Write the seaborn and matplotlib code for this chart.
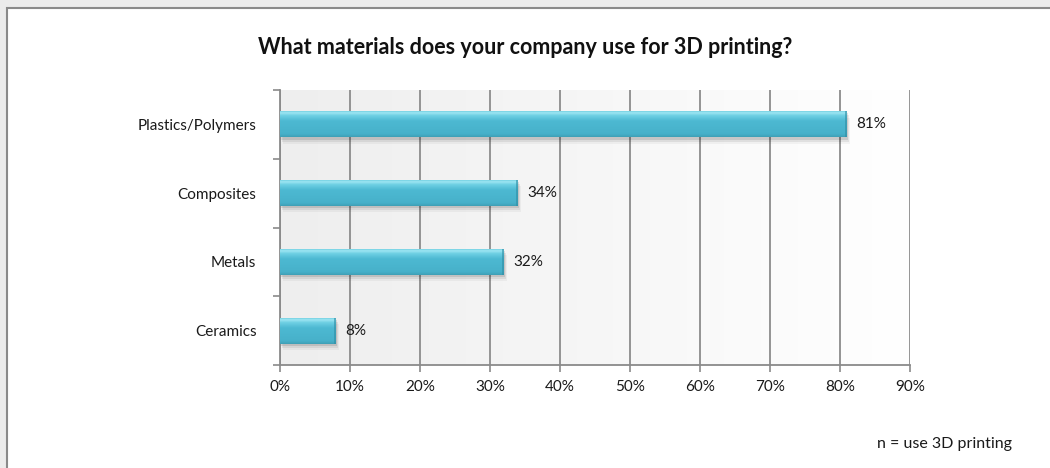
import numpy as np
import pandas as pd
import matplotlib
matplotlib.use("Agg")
import matplotlib.pyplot as plt
from matplotlib.patches import Rectangle
from matplotlib.colors import LinearSegmentedColormap
import seaborn as sns

# Survey responses
materials = ["Plastics/Polymers", "Composites", "Metals", "Ceramics"]
shares = [81, 34, 32, 8]
tick_values = [0, 10, 20, 30, 40, 50, 60, 70, 80, 90]
title_text = "What materials does your company use for 3D printing?"
note_text = "n = use 3D printing"

sns.set_theme(style="white")
plt.rcParams["font.family"] = ["Lato", "DejaVu Sans"]

df = pd.DataFrame({"material": materials, "share": shares})

fig = plt.figure(figsize=(10.5, 4.68), dpi=100)
fig.patch.set_facecolor("#ececec")

# white card with grey frame
card = Rectangle((7 / 1050, -0.05), 1.0, 1.05 - 8 / 468, transform=fig.transFigure,
                 facecolor="white", edgecolor="#8a8a8a", linewidth=1.5, zorder=-10)
fig.patches.append(card)

ax = fig.add_axes([280 / 1050, 1 - 365 / 468, 630 / 1050, 275 / 468])
ax.set_facecolor("none")

sns.barplot(data=df, y="material", x="share", orient="h", color="#4bb8d1",
            width=0.38, ax=ax, zorder=3, edgecolor="none")

ax.set_xlim(0, 90)
ax.set_ylim(len(materials) - 0.5, -0.5)

# plot-area background: light grey fading to white
bg = np.linspace(0, 1, 256).reshape(1, -1)
bg_cmap = LinearSegmentedColormap.from_list("bg", ["#eeeeee", "#ffffff"])
ax.imshow(bg, cmap=bg_cmap, aspect="auto", extent=[0, 1, 0, 1],
          transform=ax.transAxes, zorder=0)

# bevelled bar shading
bar_cmap = LinearSegmentedColormap.from_list(
    "bar", [(0.0, "#3e9fb6"), (0.12, "#47b1ca"), (0.6, "#4db9d2"), (0.8, "#6fd0e4"),
            (0.9, "#9ee6f2"), (1.0, "#5cc4da")])
grad = np.linspace(0, 1, 256).reshape(-1, 1)
for patch in list(ax.patches):
    x0, y0 = patch.get_x(), patch.get_y()
    w, h = patch.get_width(), patch.get_height()
    # soft drop shadow
    for k, a in enumerate([0.10, 0.07, 0.04]):
        d = 0.03 + k * 0.03
        ax.add_patch(Rectangle((x0 + 0.15 + k * 0.15, y0 + d), w, h,
                               facecolor="#000000", alpha=a, edgecolor="none", zorder=2))
    im = ax.imshow(grad, cmap=bar_cmap, aspect="auto",
                   extent=[x0, x0 + w, y0 + h, y0], origin="lower", zorder=4)
    im.set_clip_path(patch)
    # darker end cap
    ax.add_patch(Rectangle((x0 + w - 0.35, y0), 0.35, h, facecolor="#2f8ea5",
                           alpha=0.6, edgecolor="none", zorder=5))

ax.set_xlim(0, 90)
ax.set_ylim(len(materials) - 0.5, -0.5)

# value labels
for i, v in enumerate(shares):
    ax.text(v + 1.3, i, f"{v}%", va="center", ha="left", fontsize=11,
            color="#1a1a1a", zorder=6)

ax.set_xticks(tick_values)
ax.set_xticklabels([f"{t}%" for t in tick_values], fontsize=11, color="#1a1a1a")
ax.tick_params(axis="x", which="major", direction="out", length=5, width=1.2,
               color="#8a8a8a", pad=6, bottom=True)
ax.set_yticks(range(len(materials)))
ax.set_yticklabels(materials, fontsize=11, color="#1a1a1a")
ax.tick_params(axis="y", which="major", length=0, pad=17)
ax.set_yticks(np.arange(-0.5, len(materials), 1), minor=True)
ax.tick_params(axis="y", which="minor", direction="out", length=5, width=1.2,
               color="#8a8a8a", left=True)

ax.grid(axis="x", color="#8c8c8c", linewidth=1.3, zorder=1)
ax.set_axisbelow(True)
for s in ["top", "right"]:
    ax.spines[s].set_visible(False)
for s in ["left", "bottom"]:
    ax.spines[s].set_color("#8a8a8a")
    ax.spines[s].set_linewidth(1.3)
ax.set_xlabel("")
ax.set_ylabel("")

fig.text(525 / 1050, 1 - 48 / 468, title_text, ha="center", va="center",
         fontsize=15.5, fontweight="bold", color="#111111")
fig.text(1012 / 1050, 1 - 444 / 468, note_text, ha="right", va="center",
         fontsize=11.5, color="#1a1a1a")

fig.savefig("out.png", dpi=100, facecolor=fig.get_facecolor())
